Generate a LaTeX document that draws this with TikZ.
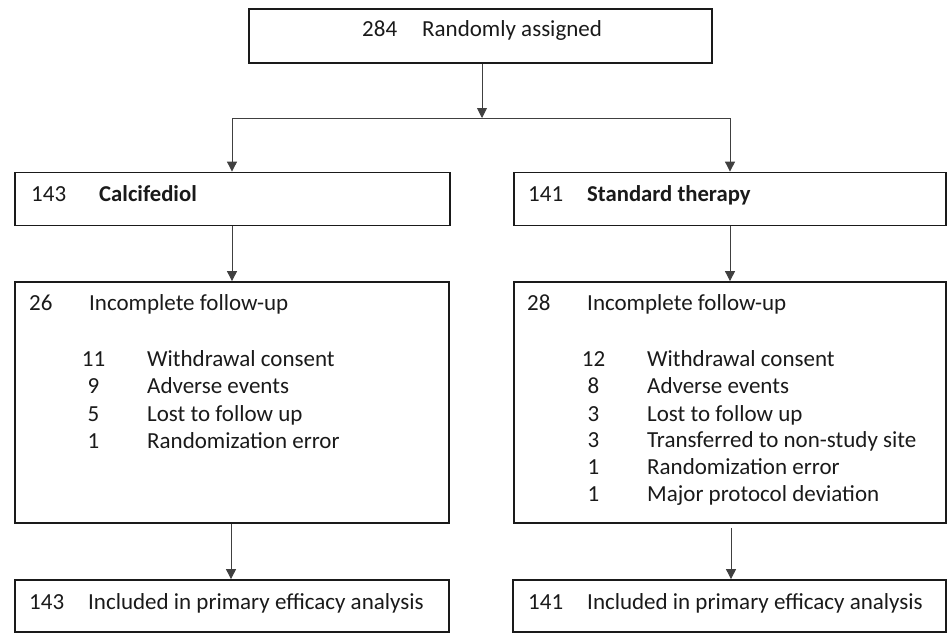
\documentclass[tikz,border=0pt]{standalone}
\usepackage{fontspec}
\setmainfont{Carlito}
\usetikzlibrary{arrows.meta}
\definecolor{ink}{HTML}{1A1A1A}
\definecolor{con}{HTML}{404040}
\begin{document}
\begin{tikzpicture}[x=1pt,y=-1pt,
  fbox/.style={draw=ink, line width=1.8pt, inner sep=0pt, rectangle},
  txt/.style={inner sep=0pt, anchor=base west, text=ink, font=\fontsize{23}{27}\selectfont},
  numc/.style={txt, anchor=base},
  bold/.style={font=\fontsize{22.7}{27}\selectfont\bfseries},
  conn/.style={draw=con, line width=0.9pt},
  arr/.style={conn, -{Triangle[width=10pt,length=10pt]}}]
\useasboundingbox (0,0) rectangle (947,634);
% boxes
\node[fbox, minimum width=463pt, minimum height=54pt] (top) at (480.5,36) {};
\node[fbox, minimum width=435pt, minimum height=53pt] (calc) at (232.5,199) {};
\node[fbox, minimum width=432pt, minimum height=53pt] (std) at (730,199) {};
\node[fbox, minimum width=434pt, minimum height=241pt] (incL) at (232,402.5) {};
\node[fbox, minimum width=432pt, minimum height=241pt] (incR) at (730,402.5) {};
\node[fbox, minimum width=434pt, minimum height=52pt] (botL) at (232,606) {};
\node[fbox, minimum width=433pt, minimum height=52pt] (botR) at (729.5,606) {};
% texts
\node[txt] (n284) at (362,37) {284};
\node[txt] (tra) at (422,37) {Randomly assigned};
\node[txt] (n143a) at (31,201) {143};
\node[txt, bold] (tcal) at (99,201) {Calcifediol};
\node[txt] (n141a) at (528,201) {141};
\node[txt, bold] (tstd) at (587,201) {Standard therapy};
\node[txt] (n26) at (29,310) {26};
\node[txt] (tincL) at (89,310) {Incomplete follow-up};
\node[txt] (n28) at (527,310) {28};
\node[txt] (tincR) at (587,310) {Incomplete follow-up};
% left list
\node[numc] (l1n) at (93.5,366) {11};
\node[txt] (l1t) at (147,366) {Withdrawal consent};
\node[numc] (l2n) at (93.5,393.5) {9};
\node[txt] (l2t) at (147,393.5) {Adverse events};
\node[numc] (l3n) at (93.5,421) {5};
\node[txt] (l3t) at (147,421) {Lost to follow up};
\node[numc] (l4n) at (93.5,448) {1};
\node[txt] (l4t) at (147,448) {Randomization error};
% right list
\node[numc] (r1n) at (593.5,366) {12};
\node[txt] (r1t) at (647,366) {Withdrawal consent};
\node[numc] (r2n) at (593.5,393.5) {8};
\node[txt] (r2t) at (647,393.5) {Adverse events};
\node[numc] (r3n) at (593.5,421) {3};
\node[txt] (r3t) at (647,421) {Lost to follow up};
\node[numc] (r4n) at (593.5,447) {3};
\node[txt] (r4t) at (647,447) {Transferred to non-study site};
\node[numc] (r5n) at (593.5,474) {1};
\node[txt] (r5t) at (647,474) {Randomization error};
\node[numc] (r6n) at (593.5,501) {1};
\node[txt] (r6t) at (647,501) {Major protocol deviation};
% bottom
\node[txt] (n143b) at (29,609) {143};
\node[txt] (tbl) at (88,609) {Included in primary efficacy analysis};
\node[txt] (n141b) at (528,609) {141};
\node[txt] (tbr) at (587,609) {Included in primary efficacy analysis};
% connectors
\coordinate (split) at (482,118);
\coordinate (jl) at (232,118);
\coordinate (jr) at (730,118);
\draw[arr] (top.south -| split) -- (split);
\draw[conn] (jl) -- (jr);
\draw[arr] (jl) -- (jl |- calc.north);
\draw[arr] (jr) -- (jr |- std.north);
\draw[arr] (calc.south -| jl) -- (incL.north -| jl);
\draw[arr] (std.south -| jr) -- (incR.north -| jr);
\coordinate (bl) at (231,0);
\coordinate (br) at (731,0);
\draw[arr] (incL.south -| bl) -- (botL.north -| bl);
\draw[arr] ([yshift=-4pt]incR.south -| br) -- (botR.north -| br);
\end{tikzpicture}
\end{document}
